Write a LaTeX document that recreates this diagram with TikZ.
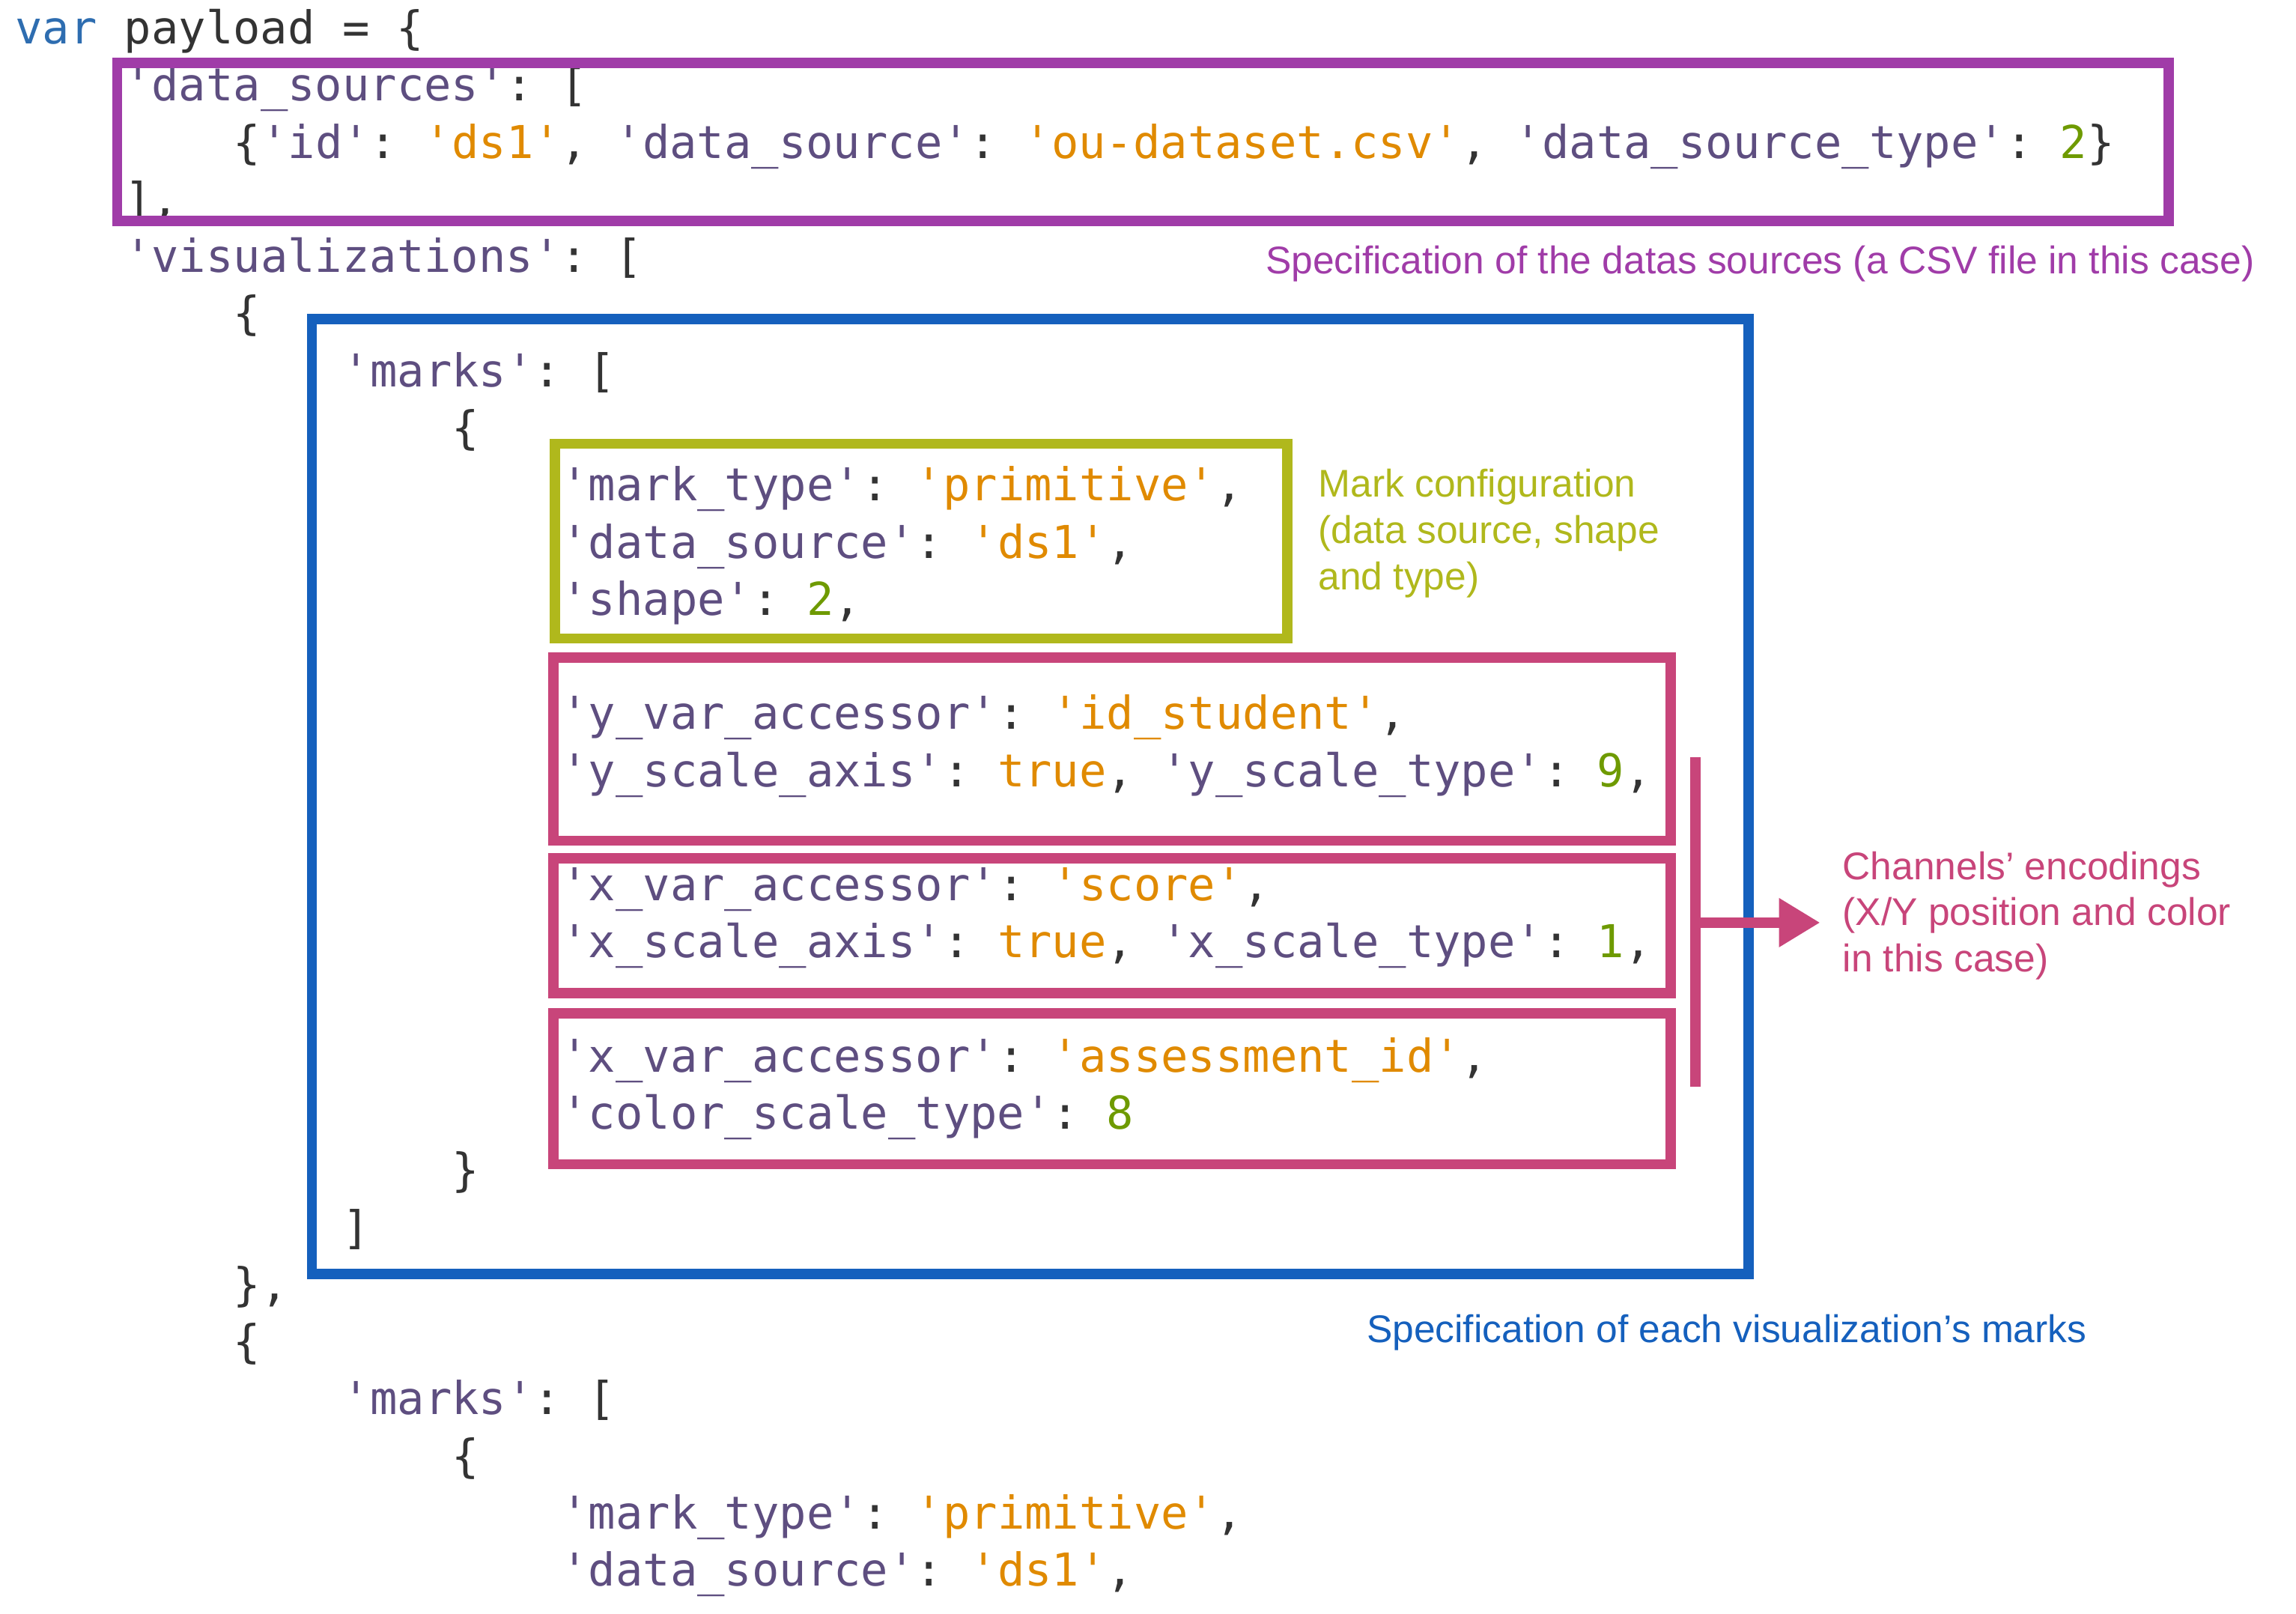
\documentclass[tikz,border=0pt]{standalone}
\usepackage{fontspec}
\usetikzlibrary{arrows.meta}
\setmainfont{Liberation Sans}
\setmonofont{DejaVu Sans Mono}
\definecolor{ck}{HTML}{5E4E80}
\definecolor{cs}{HTML}{E08A00}
\definecolor{cn}{HTML}{6E9A00}
\definecolor{cp}{HTML}{333333}
\definecolor{cv}{HTML}{2E6DB0}
\definecolor{bpur}{HTML}{A03CA8}
\definecolor{bblue}{HTML}{1560BD}
\definecolor{boli}{HTML}{B0B81C}
\definecolor{bpink}{HTML}{C8457A}
\newcommand{\ck}[1]{\textcolor{ck}{#1}}
\newcommand{\cs}[1]{\textcolor{cs}{#1}}
\newcommand{\cn}[1]{\textcolor{cn}{#1}}
\tikzset{
 code/.style={anchor=base west,inner sep=0pt,font=\fontsize{17.6}{20}\ttfamily,text=cp},
 box/.style={line width=4pt},
 note/.style={font=\fontsize{15}{18}\selectfont,inner sep=0pt,align=left}
}
\begin{document}
\begin{tikzpicture}[x=0.02cm,y=-0.02cm]
\useasboundingbox (0,0) rectangle (1568,1102);
\node[code] (l1) at (10,30) {\textcolor{cv}{var} payload = \{};
\node[code] (l2) at (84.6,69) {\ck{'data\_sources'}: [};
\node[code] (l3) at (159.2,108) {\{\ck{'id'}: \cs{'ds1'}, \ck{'data\_source'}: \cs{'ou-dataset.csv'}, \ck{'data\_source\_type'}: \cn{2}\}};
\node[code] (l4) at (84.6,147) {],};
\node[code] (l5) at (84.6,186) {\ck{'visualizations'}: [};
\node[code] (l6) at (159.2,225) {\{};
\node[code] (l7) at (233.8,264) {\ck{'marks'}: [};
\node[code] (l8) at (308.4,303) {\{};
\node[code] (l9) at (383,342) {\ck{'mark\_type'}: \cs{'primitive'},};
\node[code] (l10) at (383,381) {\ck{'data\_source'}: \cs{'ds1'},};
\node[code] (l11) at (383,420) {\ck{'shape'}: \cn{2},};
\node[code] (l12) at (383,498) {\ck{'y\_var\_accessor'}: \cs{'id\_student'},};
\node[code] (l13) at (383,537) {\ck{'y\_scale\_axis'}: \cs{true}, \ck{'y\_scale\_type'}: \cn{9},};
\node[code] (l14) at (383,615) {\ck{'x\_var\_accessor'}: \cs{'score'},};
\node[code] (l15) at (383,654) {\ck{'x\_scale\_axis'}: \cs{true}, \ck{'x\_scale\_type'}: \cn{1},};
\node[code] (l16) at (383,732) {\ck{'x\_var\_accessor'}: \cs{'assessment\_id'},};
\node[code] (l17) at (383,771) {\ck{'color\_scale\_type'}: \cn{8}};
\node[code] (l18) at (308.4,810) {\}};
\node[code] (l19) at (233.8,849) {]};
\node[code] (l20) at (159.2,888) {\},};
\node[code] (l21) at (159.2,927) {\{};
\node[code] (l22) at (233.8,966) {\ck{'marks'}: [};
\node[code] (l23) at (308.4,1005) {\{};
\node[code] (l24) at (383,1044) {\ck{'mark\_type'}: \cs{'primitive'},};
\node[code] (l25) at (383,1083) {\ck{'data\_source'}: \cs{'ds1'},};
% boxes
\draw[box,bpur] (80,43) rectangle (1481,151);
\draw[box,bblue] (213,218) rectangle (1194,870);
\draw[box,boli] (379,303) rectangle (879,436);
\draw[box,bpink] (378,449) rectangle (1141,574);
\draw[box,bpink] (378,586) rectangle (1141,678);
\draw[box,bpink] (378,692) rectangle (1141,795);
\coordinate (vt) at (1158,517);
\coordinate (vb) at (1158,742);
\coordinate (vm) at (1158,630);
\coordinate (ve) at (1243,630);
\draw[bpink,line width=4pt] (vt) -- (vb);
\draw[bpink,line width=4pt,-{Triangle[length=16pt,width=18pt]}] (vm) -- (ve);
% notes
\node[note,text=bpur,anchor=east] (np) at (1540,180) {Specification of the datas sources (a CSV file in this case)};
\node[note,text=boli,anchor=north west] (no) at (900,320) {Mark configuration\\(data source, shape\\and type)};
\node[note,text=bpink,anchor=north west] (nk) at (1258,581) {Channels’ encodings\\(X/Y position and color\\in this case)};
\node[note,text=bblue,anchor=west] (nb) at (933,910) {Specification of each visualization’s marks};
\end{tikzpicture}
\end{document}
